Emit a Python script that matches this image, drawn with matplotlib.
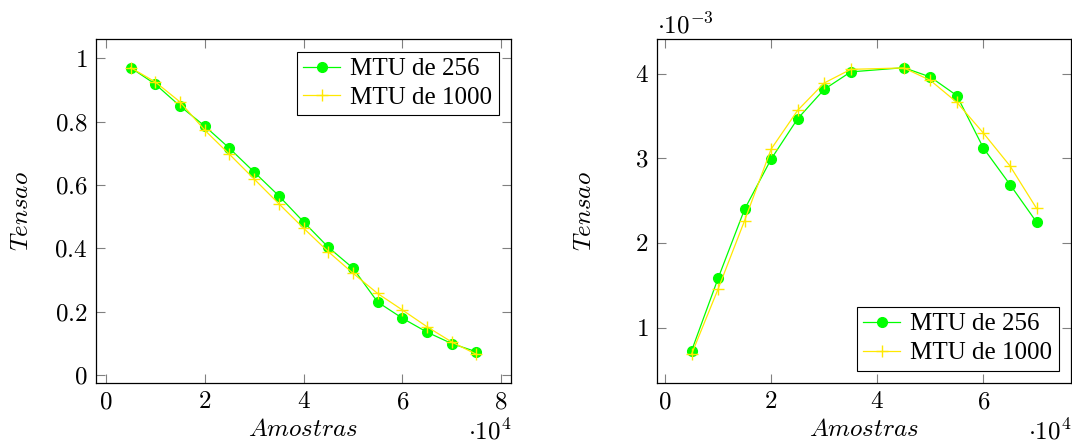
import numpy as np
import matplotlib
matplotlib.use("Agg")
import matplotlib.pyplot as plt
from matplotlib.ticker import FixedLocator, FuncFormatter

plt.rcParams["mathtext.fontset"] = "cm"
plt.rcParams["font.family"] = "serif"
plt.rcParams["font.serif"] = ["Liberation Serif", "DejaVu Serif"]

# left panel (samples in units of 1e4)
x_left = [0.5, 1.0, 1.5, 2.0, 2.5, 3.0, 3.5, 4.0, 4.5, 5.0, 5.5, 6.0, 6.5, 7.0, 7.5]
mtu256_left = [0.970, 0.918, 0.849, 0.786, 0.716, 0.641, 0.566, 0.484, 0.404,
               0.338, 0.231, 0.180, 0.136, 0.100, 0.074]
mtu1000_left = [0.970, 0.925, 0.862, 0.773, 0.697, 0.619, 0.541, 0.464, 0.390,
                0.322, 0.258, 0.206, 0.153, 0.105, 0.066]

# right panel (samples in 1e4, voltage in 1e-3)
x_right = [0.5, 1.0, 1.5, 2.0, 2.5, 3.0, 3.5, 4.5, 5.0, 5.5, 6.0, 6.5, 7.0]
mtu256_right = [0.723, 1.580, 2.397, 2.990, 3.467, 3.814, 4.020, 4.070, 3.960,
                3.740, 3.120, 2.690, 2.247]
mtu1000_right = [0.684, 1.454, 2.263, 3.108, 3.566, 3.889, 4.050, 4.067, 3.920,
                 3.660, 3.297, 2.910, 2.409]

xticks_left = [0, 2, 4, 6, 8]
yticks_left = [0, 0.2, 0.4, 0.6, 0.8, 1.0]
xticks_right = [0, 2, 4, 6]
yticks_right = [1, 2, 3, 4]

GREEN = "#00ff00"
YELLOW = "#ffe800"
FS = 18

fig = plt.figure(figsize=(10.72, 4.45), dpi=100)
ax1 = fig.add_axes([96 / 1072, 1 - 383 / 445, 415 / 1072, 344 / 445])
ax2 = fig.add_axes([657 / 1072, 1 - 383 / 445, 414 / 1072, 344 / 445])


def fmt(v, pos):
    return f"${v:g}$"


def style(ax, xt, yt, ylab_x):
    ax.xaxis.set_major_locator(FixedLocator(xt))
    ax.yaxis.set_major_locator(FixedLocator(yt))
    ax.xaxis.set_major_formatter(FuncFormatter(fmt))
    ax.yaxis.set_major_formatter(FuncFormatter(fmt))
    ax.tick_params(direction="in", length=6.5, width=0.8, color="#808080",
                   top=True, right=True, labelsize=FS, pad=6)
    for sp in ax.spines.values():
        sp.set_linewidth(0.9)
        sp.set_color("black")
    ax.set_xlabel("$Amostras$", fontsize=FS, labelpad=4)
    ax.set_ylabel("$Tensao$", fontsize=FS, va="center")
    ax.yaxis.set_label_coords(ylab_x, 0.5)


def draw(ax, x, g, y):
    ax.plot(x, g, "-o", color=GREEN, lw=0.9, ms=7, mfc=GREEN, mec=GREEN,
            label="MTU de 256")
    ax.plot(x, y, "-+", color=YELLOW, lw=0.9, ms=8, mew=1.0,
            label="MTU de 1000")


def legend(ax, loc):
    leg = ax.legend(loc=loc, fontsize=FS, frameon=True, fancybox=False,
                    edgecolor="black", framealpha=1, handlelength=1.5,
                    handletextpad=0.4, borderpad=0.25, labelspacing=0.25,
                    borderaxespad=0.5)
    leg.get_frame().set_linewidth(0.8)


draw(ax1, x_left, mtu256_left, mtu1000_left)
style(ax1, xticks_left, yticks_left, -0.178)
r = max(x_left) - min(x_left)
ax1.set_xlim(min(x_left) - 0.1 * r, max(x_left) + 0.1 * r)
lo = min(mtu256_left + mtu1000_left)
hi = max(mtu256_left + mtu1000_left)
ax1.set_ylim(lo - 0.1 * (hi - lo), hi + 0.1 * (hi - lo))
legend(ax1, "upper right")
ax1.text(1.0, -0.142, r"$\cdot 10^4$", transform=ax1.transAxes, fontsize=FS,
         ha="right", va="center")

draw(ax2, x_right, mtu256_right, mtu1000_right)
style(ax2, xticks_right, yticks_right, -0.174)
r = max(x_right) - min(x_right)
ax2.set_xlim(min(x_right) - 0.1 * r, max(x_right) + 0.1 * r)
lo = min(mtu256_right + mtu1000_right)
hi = max(mtu256_right + mtu1000_right)
ax2.set_ylim(lo - 0.1 * (hi - lo), hi + 0.1 * (hi - lo))
legend(ax2, "lower right")
ax2.text(1.0, -0.142, r"$\cdot 10^4$", transform=ax2.transAxes, fontsize=FS,
         ha="right", va="center")
ax2.text(0.0, 1.04, r"$\cdot 10^{-3}$", transform=ax2.transAxes, fontsize=FS,
         ha="left", va="center")

fig.savefig("out.png", dpi=100)
